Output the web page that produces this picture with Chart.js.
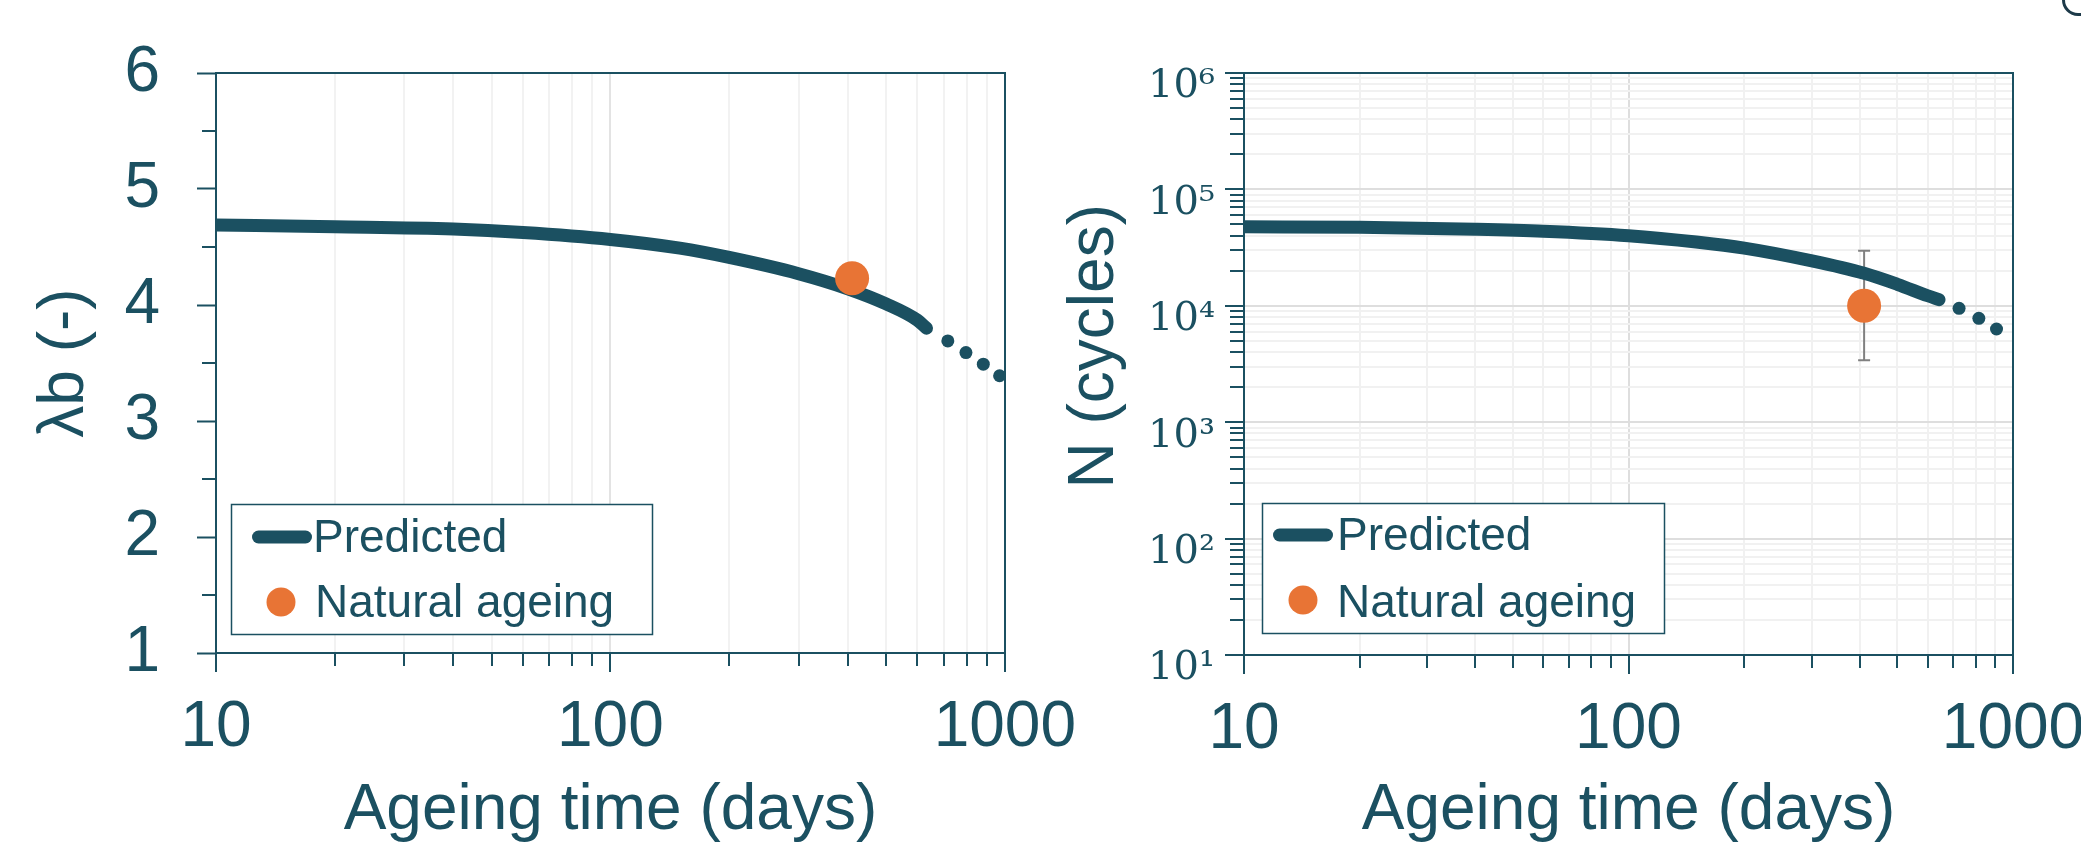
<!DOCTYPE html>
<html>
<head>
<meta charset="utf-8">
<script src="https://cdn.jsdelivr.net/npm/chart.js@4/dist/chart.umd.min.js"></script>
<style>
html,body{margin:0;padding:0;background:#fff;overflow:hidden;width:2081px;height:845px;position:relative}
.wrap{position:absolute;top:0;width:1100px;height:845px}
canvas{display:block}
#corner{position:absolute;left:2062px;top:-40px;width:60px;height:50px;border:3px solid #1d3a49;border-radius:16px}
</style>
</head>
<body>
<div class="wrap" style="left:0"><canvas id="c1" width="1100" height="845"></canvas></div>
<div class="wrap" style="left:1040px"><canvas id="c2" width="1100" height="845"></canvas></div>
<div id="corner"></div>
<script>
// ---------- data ----------
const X_TITLE = 'Ageing time (days)';
const X_TICK_VALUES = [10,20,30,40,50,60,70,80,90,100,200,300,400,500,600,700,800,900,1000];
const X_TICK_LABELS = {10:'10', 100:'100', 1000:'1000'};

const LAMBDA_TITLE = 'λb (-)';
const LAMBDA_TICK_VALUES = [1,1.5,2,2.5,3,3.5,4,4.5,5,5.5,6];
const LAMBDA_TICK_LABELS = {1:'1',2:'2',3:'3',4:'4',5:'5',6:'6'};

const N_TITLE = 'N (cycles)';
const N_TICK_VALUES = [10,20,30,40,50,60,70,80,90,
  100,200,300,400,500,600,700,800,900,
  1000,2000,3000,4000,5000,6000,7000,8000,9000,
  10000,20000,30000,40000,50000,60000,70000,80000,90000,
  100000,200000,300000,400000,500000,600000,700000,800000,900000,1000000];
const N_TICK_LABELS = {10:'10¹',100:'10²',1000:'10³',10000:'10⁴',100000:'10⁵',1000000:'10⁶'};

const SERIES_NAMES = ['Predicted', 'Natural ageing'];

// left panel (λb)
const PRED_DAYS_L   = [10, 20, 40, 60, 100, 150, 200, 300, 400, 500, 600, 633];
const PRED_LAMBDA   = [4.69, 4.675, 4.655, 4.625, 4.565, 4.49, 4.41, 4.27, 4.14, 4.01, 3.87, 3.80];
const EXTRAP_DAYS_L = [717, 797, 882, 970];
const EXTRAP_LAMBDA = [3.69, 3.59, 3.49, 3.39];
const NAT_DAYS_L    = [410];
const NAT_LAMBDA    = [4.23];

// right panel (N)
const PRED_DAYS_R   = [10, 20, 40, 60, 100, 150, 200, 300, 410, 500, 600, 642];
const PRED_N        = [47800, 47200, 45400, 43700, 40000, 35300, 31300, 24300, 19000, 15300, 12200, 11300];
const EXTRAP_DAYS_R = [724, 815, 906];
const EXTRAP_N      = [9520, 7810, 6320];
const NAT_DAYS_R    = [410];
const NAT_N         = [10000];
const NAT_N_LOW     = [3400];
const NAT_N_HIGH    = [29700];

// ---------- styling ----------
const TEAL = '#1b5061';
const ORANGE = '#e87435';
const SANS = '"Liberation Sans", Arial, sans-serif';
const SERIF = '"DejaVu Serif", "Liberation Serif", serif';
const pts = (xs, ys) => xs.map((x, i) => ({x: x, y: ys[i]}));
const isPow10 = v => Math.abs(Math.log10(v) - Math.round(Math.log10(v))) < 1e-9;

// ---------- plugins ----------
const minorTicks = {
  id: 'minorTicks',
  afterDraw(chart, args, opts) {
    const ctx = chart.ctx;
    for (const id of Object.keys(opts.lengths || {})) {
      const s = chart.scales[id];
      const len = opts.lengths[id];
      if (!s) continue;
      ctx.save();
      ctx.strokeStyle = TEAL;
      ctx.lineWidth = 2;
      for (const t of s.ticks) {
        if (t.major) continue;
        const p = Math.round(s.getPixelForValue(t.value));
        ctx.beginPath();
        if (s.isHorizontal()) { ctx.moveTo(p, s.top); ctx.lineTo(p, s.top + len); }
        else { ctx.moveTo(s.right, p); ctx.lineTo(s.right - len, p); }
        ctx.stroke();
      }
      ctx.restore();
    }
  }
};

const errorBars = {
  id: 'errorBars',
  beforeDatasetsDraw(chart, args, opts) {
    if (!opts.low) return;
    const ds = chart.data.datasets[opts.datasetIndex];
    const xs = chart.scales.x, ys = chart.scales.y, ctx = chart.ctx;
    ctx.save();
    ctx.strokeStyle = opts.color;
    ctx.lineWidth = opts.width;
    ds.data.forEach((p, i) => {
      const x = xs.getPixelForValue(p.x);
      const y1 = ys.getPixelForValue(opts.low[i]);
      const y2 = ys.getPixelForValue(opts.high[i]);
      ctx.beginPath();
      ctx.moveTo(x, y1); ctx.lineTo(x, y2);
      ctx.moveTo(x - opts.cap, y1); ctx.lineTo(x + opts.cap, y1);
      ctx.moveTo(x - opts.cap, y2); ctx.lineTo(x + opts.cap, y2);
      ctx.stroke();
    });
    ctx.restore();
  }
};

const boxLegend = {
  id: 'boxLegend',
  afterDraw(chart, args, o) {
    const ctx = chart.ctx;
    const ds = chart.data.datasets;
    const lineDs = ds.find(d => d.legendRole === 'line');
    const dotDs = ds.find(d => d.legendRole === 'dot');
    ctx.save();
    ctx.fillStyle = '#ffffff';
    ctx.fillRect(o.box[0], o.box[1], o.box[2], o.box[3]);
    ctx.strokeStyle = TEAL;
    ctx.lineWidth = 1.5;
    ctx.strokeRect(o.box[0], o.box[1], o.box[2], o.box[3]);
    ctx.strokeStyle = lineDs.borderColor;
    ctx.lineWidth = lineDs.borderWidth;
    ctx.lineCap = 'round';
    ctx.beginPath();
    ctx.moveTo(o.line[0] + lineDs.borderWidth / 2, o.line[2]);
    ctx.lineTo(o.line[1] - lineDs.borderWidth / 2, o.line[2]);
    ctx.stroke();
    ctx.fillStyle = dotDs.pointBackgroundColor;
    ctx.beginPath();
    ctx.arc(o.dot[0], o.dot[1], o.dot[2], 0, Math.PI * 2);
    ctx.fill();
    ctx.fillStyle = TEAL;
    ctx.font = '46px ' + SANS;
    ctx.textBaseline = 'alphabetic';
    ctx.textAlign = 'left';
    ctx.fillText(lineDs.label, o.text[0][0], o.text[0][1]);
    ctx.fillText(dotDs.label, o.text[1][0], o.text[1][1]);
    ctx.restore();
  }
};

// ---------- axis builders ----------
function gridColorFn(min, max, majorCol, minorCol) {
  return c => {
    if (!c.tick) return 'rgba(0,0,0,0)';
    const v = c.tick.value;
    if (Math.abs(v - min) < 1e-9 || Math.abs(v - max) < 1e-9) return 'rgba(0,0,0,0)';
    return c.tick.major ? majorCol : minorCol;
  };
}
const tickColorFn = c => (c.tick && c.tick.major) ? TEAL : 'rgba(0,0,0,0)';

function xAxis(height, majorCol, minorCol) {
  return {
    type: 'logarithmic', position: 'bottom', min: 10, max: 1000,
    afterBuildTicks: s => { s.ticks = X_TICK_VALUES.map(v => ({value: v, major: isPow10(v)})); },
    afterFit: s => { s.height = height; },
    ticks: {
      autoSkip: false, maxRotation: 0, minRotation: 0, padding: 24, color: TEAL,
      font: {family: SANS, size: 64, lineHeight: 1},
      callback: v => X_TICK_LABELS[v] || ''
    },
    grid: {
      lineWidth: 2, color: gridColorFn(10, 1000, majorCol, minorCol),
      drawTicks: true, tickLength: 19, tickWidth: 2, tickColor: tickColorFn
    },
    border: {color: TEAL, width: 2},
    title: {display: true, text: X_TITLE, color: TEAL, font: {family: SANS, size: 64, lineHeight: 1}, padding: {top: 0, bottom: 2}}
  };
}
function borderAxis(pos) {
  return {
    type: 'linear', position: pos, display: true, min: 0, max: 1,
    afterFit: s => { if (s.isHorizontal()) s.height = 0; else s.width = 0; },
    ticks: {display: false}, grid: {display: false, drawTicks: false},
    border: {color: TEAL, width: 2}
  };
}

const common = {responsive: false, animation: false, events: []};

// ---------- left chart ----------
new Chart(document.getElementById('c1'), {
  type: 'line',
  data: {
    datasets: [
      {label: SERIES_NAMES[1], legendRole: 'dot', data: pts(NAT_DAYS_L, NAT_LAMBDA), showLine: false,
       pointRadius: 17, pointBackgroundColor: ORANGE, pointBorderWidth: 0, borderColor: ORANGE, order: 0},
      {label: SERIES_NAMES[0], legendRole: 'line', data: pts(PRED_DAYS_L, PRED_LAMBDA), borderColor: TEAL,
       borderWidth: 13, pointRadius: 0, cubicInterpolationMode: 'monotone', borderCapStyle: 'round',
       borderJoinStyle: 'round', clip: 0, order: 1},
      {label: SERIES_NAMES[0] + ' (extrapolated)', data: pts(EXTRAP_DAYS_L, EXTRAP_LAMBDA), showLine: false,
       pointRadius: 6.5, pointBackgroundColor: TEAL, pointBorderWidth: 0, borderColor: TEAL, order: 2}
    ]
  },
  options: Object.assign({}, common, {
    layout: {padding: {left: 0, top: 73, right: 91, bottom: 0}},
    plugins: {
      legend: {display: false}, tooltip: {enabled: false},
      minorTicks: {lengths: {x: 13, y: 14}},
      boxLegend: {box: [231.5, 504.5, 421, 130], line: [252, 312, 537], dot: [281, 602, 14.5],
                  text: [[313, 552], [315, 617]]}
    },
    scales: {
      x: xAxis(192, '#e3e3e3', '#f2f2f2'),
      y: {
        type: 'linear', position: 'left', min: 1, max: 6,
        afterBuildTicks: s => { s.ticks = LAMBDA_TICK_VALUES.map(v => ({value: v, major: Number.isInteger(v)})); },
        afterFit: s => { s.width = 216; },
        ticks: {autoSkip: false, padding: 37, color: TEAL, font: {family: SANS, size: 64, lineHeight: 1},
                callback: v => LAMBDA_TICK_LABELS[v] || ''},
        grid: {drawOnChartArea: false, drawTicks: true, tickLength: 19, tickWidth: 2, tickColor: tickColorFn},
        border: {color: TEAL, width: 2},
        title: {display: true, text: LAMBDA_TITLE, color: TEAL, font: {family: SANS, size: 64, lineHeight: 1}, padding: {top: 33, bottom: 0}}
      },
      x2: borderAxis('top'),
      y2: borderAxis('right')
    }
  }),
  plugins: [minorTicks, boxLegend]
});

// ---------- right chart ----------
new Chart(document.getElementById('c2'), {
  type: 'line',
  data: {
    datasets: [
      {label: SERIES_NAMES[1], legendRole: 'dot', data: pts(NAT_DAYS_R, NAT_N), showLine: false,
       pointRadius: 17, pointBackgroundColor: ORANGE, pointBorderWidth: 0, borderColor: ORANGE, order: 0},
      {label: SERIES_NAMES[0], legendRole: 'line', data: pts(PRED_DAYS_R, PRED_N), borderColor: TEAL,
       borderWidth: 13, pointRadius: 0, cubicInterpolationMode: 'monotone', borderCapStyle: 'round',
       borderJoinStyle: 'round', clip: 0, order: 1},
      {label: SERIES_NAMES[0] + ' (extrapolated)', data: pts(EXTRAP_DAYS_R, EXTRAP_N), showLine: false,
       pointRadius: 6.5, pointBackgroundColor: TEAL, pointBorderWidth: 0, borderColor: TEAL, order: 2}
    ]
  },
  options: Object.assign({}, common, {
    layout: {padding: {left: 0, top: 73, right: 127, bottom: 0}},
    plugins: {
      legend: {display: false}, tooltip: {enabled: false},
      minorTicks: {lengths: {x: 13, y: 14}},
      errorBars: {datasetIndex: 0, low: NAT_N_LOW, high: NAT_N_HIGH, color: '#808080', width: 2, cap: 6},
      boxLegend: {box: [222.5, 503.5, 402, 130], line: [233, 293, 535], dot: [263, 600, 14.5],
                  text: [[297, 550], [297, 617]]}
    },
    scales: {
      x: xAxis(190, '#dedede', '#f1f1f1'),
      y: {
        type: 'logarithmic', position: 'left', min: 10, max: 1000000,
        afterBuildTicks: s => { s.ticks = N_TICK_VALUES.map(v => ({value: v, major: isPow10(v)})); },
        afterFit: s => { s.width = 204; },
        ticks: {autoSkip: false, padding: 10, labelOffset: 14, color: TEAL,
                font: {family: SERIF, size: 40, lineHeight: 1},
                callback: v => N_TICK_LABELS[v] || ''},
        grid: {lineWidth: 2, color: gridColorFn(10, 1000000, '#dedede', '#f1f1f1'),
               drawTicks: true, tickLength: 19, tickWidth: 2, tickColor: tickColorFn},
        border: {color: TEAL, width: 2},
        title: {display: true, text: '  ' + N_TITLE, color: TEAL, font: {family: SANS, size: 64, lineHeight: 1}, padding: {top: 23, bottom: 0}}
      },
      x2: borderAxis('top'),
      y2: borderAxis('right')
    }
  }),
  plugins: [minorTicks, errorBars, boxLegend]
});
</script>
</body>
</html>
